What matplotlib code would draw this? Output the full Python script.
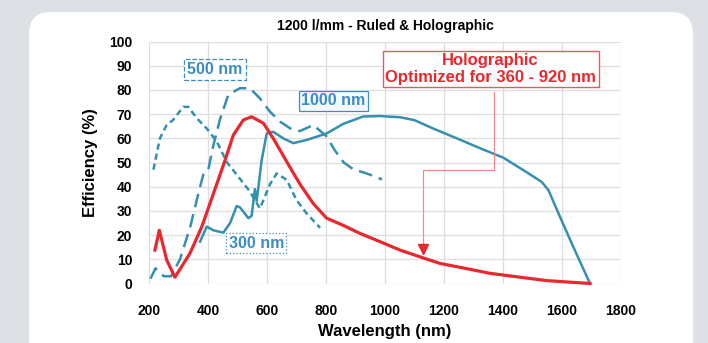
import matplotlib
matplotlib.use("Agg")
import matplotlib.pyplot as plt
from matplotlib.patches import FancyBboxPatch
from matplotlib.transforms import IdentityTransform

plt.rcParams['font.family'] = ['Liberation Sans', 'DejaVu Sans']

# holographic grating (red)
holo_wl = [220, 235, 260, 288, 339, 379, 418, 458, 486, 520, 548, 588, 621, 667,
           712, 757, 802, 859, 915, 983, 1051, 1119, 1186, 1254, 1356, 1458, 1548, 1695]
holo_eff = [13.8, 22, 9.7, 2.6, 12.5, 23.5, 37, 51, 61.4, 67.6, 68.9, 66.2, 60, 50.3,
            41, 33, 27, 24, 20.7, 17.3, 13.8, 11, 8.3, 6.7, 4.2, 2.6, 1.2, 0]

# ruled, 300 nm blaze (short dash)
r300_wl = [215, 237, 260, 282, 316, 333, 362, 396, 430, 463, 497, 542, 576, 610,
           633, 667, 700, 734, 780]
r300_eff = [47, 60, 65.5, 67.6, 73, 73, 68.3, 64, 58.6, 50.3, 45, 38, 31, 41,
            45.5, 42.8, 34.5, 29, 23]

# ruled, 500 nm blaze (long dash)
r500_wl = [205, 222, 250, 275, 305, 340, 367, 385, 401, 418, 441, 469, 508, 542,
           576, 610, 644, 680, 712, 757, 800, 830, 860, 895, 925, 960, 990]
r500_eff = [2, 6.3, 3, 3, 10, 23.5, 37, 45.5, 47, 57, 68, 78, 80.7, 80.7,
            76.5, 71, 66.9, 64, 63, 65.5, 61, 55, 50, 47, 46, 44.5, 43]

# ruled, 1000 nm blaze (solid)
r1000_wl = [373, 396, 418, 452, 475, 497, 508, 537, 548, 559, 565, 582, 599, 621,
            655, 689, 734, 802, 859, 926, 983, 1051, 1100, 1164, 1243, 1330, 1401,
            1480, 1531, 1554, 1593, 1638, 1695]
r1000_eff = [17.3, 23.5, 22, 21, 25, 32, 31.5, 27, 28, 39, 34, 51, 62, 62.7,
             60, 58, 59.3, 62, 66, 69, 69.2, 68.7, 67.5, 64, 60, 55.5, 52,
             46, 42, 38.6, 27.6, 15.2, 0]

x_ticks = list(range(200, 1801, 200))
y_ticks = list(range(0, 101, 10))

RED = '#e8282e'
BLUE = '#3590ae'
LABEL_BLUE = '#3d8dbf'

W, H = 708, 343
fig = plt.figure(figsize=(W / 100, H / 100), dpi=100, facecolor='#dde1e5')

# white rounded panel behind the chart (pixel coords)
panel = FancyBboxPatch((29, -40), 664, 371, boxstyle='round,pad=0,rounding_size=22',
                       transform=IdentityTransform(), fc='white', ec='none', zorder=-5)
fig.patches.append(panel)

ax = fig.add_axes([149 / W, (H - 283.5) / H, (621 - 149) / W, (283.5 - 41.5) / H])
ax.set_facecolor('white')
ax.set_xlim(200, 1800)
ax.set_ylim(0, 100)
ax.set_xticks(x_ticks)
ax.set_yticks(y_ticks)
ax.grid(True, color='#dedede', lw=0.9)
ax.set_axisbelow(True)
for s in ax.spines.values():
    s.set_visible(False)
ax.tick_params(length=0, labelsize=10)
ax.tick_params(axis='y', pad=12)
ax.tick_params(axis='x', pad=15)
for lbl in ax.get_xticklabels() + ax.get_yticklabels():
    lbl.set_fontweight('bold')

ax.plot(r300_wl, r300_eff, color=BLUE, lw=1.8, dashes=(2.5, 1.6), clip_on=False)
ax.plot(r500_wl, r500_eff, color=BLUE, lw=1.8, dashes=(5.5, 2.8), clip_on=False)
ax.plot(r1000_wl, r1000_eff, color=BLUE, lw=1.8, clip_on=False)
ax.plot(holo_wl, holo_eff, color=RED, lw=2.3, clip_on=False, zorder=5)

ax.set_title('1200 l/mm - Ruled & Holographic', fontsize=10, fontweight='bold', pad=8)
ax.set_xlabel('Wavelength (nm)', fontsize=12, fontweight='bold', labelpad=4)
ax.set_ylabel('Efficiency (%)', fontsize=12, fontweight='bold', labelpad=8)

# curve labels
ax.text(424, 88.5, '500 nm', color=LABEL_BLUE, fontsize=11.5, fontweight='bold',
        ha='center', va='center',
        bbox=dict(boxstyle='square,pad=0.2', fc='white', ec=LABEL_BLUE, ls='--', lw=0.9))
ax.text(824, 75.5, '1000 nm', color=LABEL_BLUE, fontsize=11.5, fontweight='bold',
        ha='center', va='center',
        bbox=dict(boxstyle='square,pad=0.15', fc='#f4f9fc', ec=LABEL_BLUE, lw=0.9))
ax.text(564, 16.6, '300 nm', color=LABEL_BLUE, fontsize=11.5, fontweight='bold',
        ha='center', va='center',
        bbox=dict(boxstyle='square,pad=0.15', fc='white', ec=LABEL_BLUE, ls=':', lw=0.9))

# holographic callout
ax.text(1358, 88.6, 'Holographic\nOptimized for 360 - 920 nm', color=RED, fontsize=12,
        fontweight='bold', ha='center', va='center', linespacing=1.1, zorder=6,
        bbox=dict(boxstyle='square,pad=0.15', fc='white', ec='#e85a5e', lw=1.0))
ax.plot([1369, 1369, 1130, 1130], [79.3, 46.9, 46.9, 15], color='#ef8a8c', lw=0.9, zorder=4)
ax.plot([1130], [14.2], marker='v', ms=7, color=RED, zorder=6)

fig.savefig('out.png', dpi=100, facecolor=fig.get_facecolor())
